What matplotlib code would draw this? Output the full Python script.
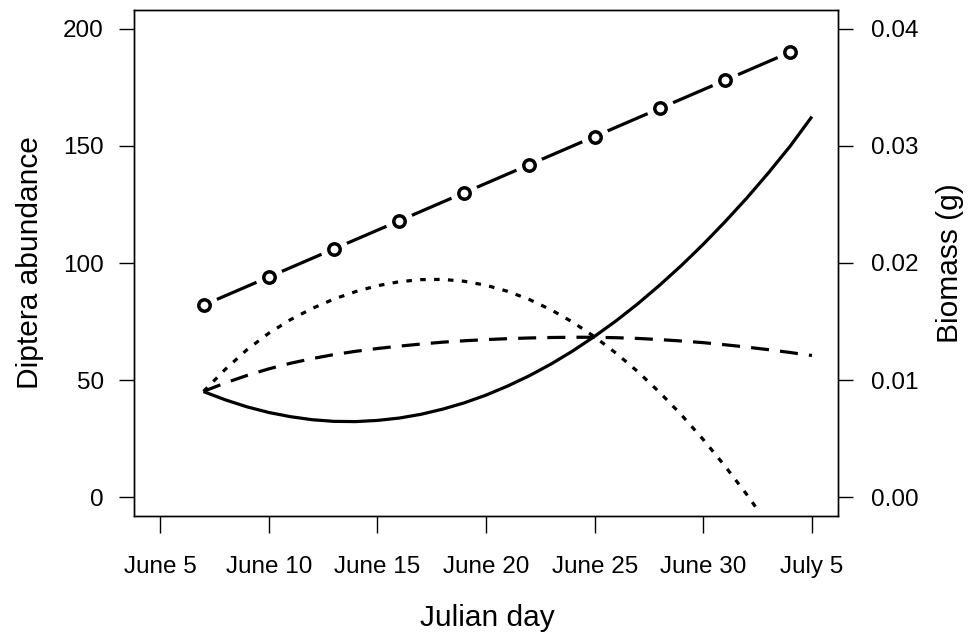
import matplotlib
matplotlib.use("Agg")
import matplotlib.pyplot as plt
import numpy as np

# Diptera abundance (observed, every 3 days)
obs_day = [158, 161, 164, 167, 170, 173, 176, 179, 182, 185]
obs_abund = [82, 94, 106, 118, 130, 142, 154, 166, 178, 190]

# fitted curves (one value per day)
curve_day = list(range(158, 187))
solid = [45.1, 41.6, 38.6, 36.2, 34.4, 33.1, 32.4, 32.3, 32.8, 33.8,
         35.4, 37.6, 40.3, 43.6, 47.5, 51.9, 56.9, 62.5, 68.7, 75.4,
         82.7, 90.6, 99.0, 108.0, 117.6, 127.7, 138.5, 149.9, 162.5]
dashed = [45.2, 48.8, 52.0, 54.8, 57.2, 59.2, 60.9, 62.3, 63.5, 64.5,
          65.4, 66.2, 66.8, 67.3, 67.7, 68.0, 68.2, 68.3, 68.3, 68.1,
          67.8, 67.3, 66.7, 66.0, 65.1, 64.1, 63.0, 61.8, 60.5]
dotted_day = list(range(158, 184)) + [183.4]
dotted = [45.2, 54.6, 63.0, 70.0, 75.8, 80.6, 84.6, 87.8, 90.3, 92.0,
          92.9, 93.0, 92.2, 90.5, 87.9, 84.4, 80.0, 74.7, 68.5, 61.4,
          53.5, 44.7, 35.1, 24.6, 13.3, 1.2, -4.0]

xtick_days = [156, 161, 166, 171, 176, 181, 186]
xtick_labels = ["June 5", "June 10", "June 15", "June 20", "June 25", "June 30", "July 5"]
left_ticks = [0, 50, 100, 150, 200]
right_ticks = [0.00, 0.01, 0.02, 0.03, 0.04]

plt.rcParams['font.family'] = ['Liberation Sans', 'DejaVu Sans']
plt.rcParams['lines.scale_dashes'] = False

fig = plt.figure(figsize=(9.72, 6.37), dpi=100)
ax = fig.add_axes([134/972, 1-516/637, 704/972, 506/637])

lw = 2.3
ax.plot(curve_day, solid, color='black', lw=lw, solid_capstyle='butt')
ax.plot(curve_day, dashed, color='black', lw=lw, dashes=(13, 8), dash_capstyle='butt')
ax.plot(dotted_day, dotted, color='black', lw=lw, dashes=(4, 6), dash_capstyle='butt')

# observed series: line with gaps around the open circles
ax.plot(obs_day, obs_abund, color='black', lw=lw, zorder=3)
ax.plot(obs_day, obs_abund, ls='none', marker='o', ms=20, mfc='white', mec='none', zorder=4)
ax.plot(obs_day, obs_abund, ls='none', marker='o', ms=8.2, mfc='white', mec='black', mew=2.5, zorder=5)

ax.set_xlim(154.8, 187.2)
ax.set_ylim(-8, 208)
ax.set_xticks(xtick_days)
ax.set_xticklabels(xtick_labels)
ax.set_yticks(left_ticks)
ax.tick_params(axis='x', length=12, pad=17, labelsize=17.5, width=1)
ax.tick_params(axis='y', length=10.8, pad=11, labelsize=17.5, width=1)
for s in ax.spines.values():
    s.set_linewidth(1.0)

ax2 = ax.twinx()
ax2.set_ylim(-0.0016, 0.0416)
ax2.set_yticks(right_ticks)
ax2.set_yticklabels(["%.2f" % v for v in right_ticks])
ax2.tick_params(axis='y', length=10.8, pad=13, labelsize=17.5, width=1)
for s in ax2.spines.values():
    s.set_linewidth(1.0)

fig.text(30/972, 1-263/637, "Diptera abundance", rotation=90, ha='center', va='center', fontsize=21.5)
fig.text(950/972, 1-263/637, "Biomass (g)", rotation=90, ha='center', va='center', fontsize=21.5)
fig.text(487/972, 1-618/637, "Julian day", ha='center', va='center', fontsize=21.5)

fig.savefig("out.png", dpi=100)
